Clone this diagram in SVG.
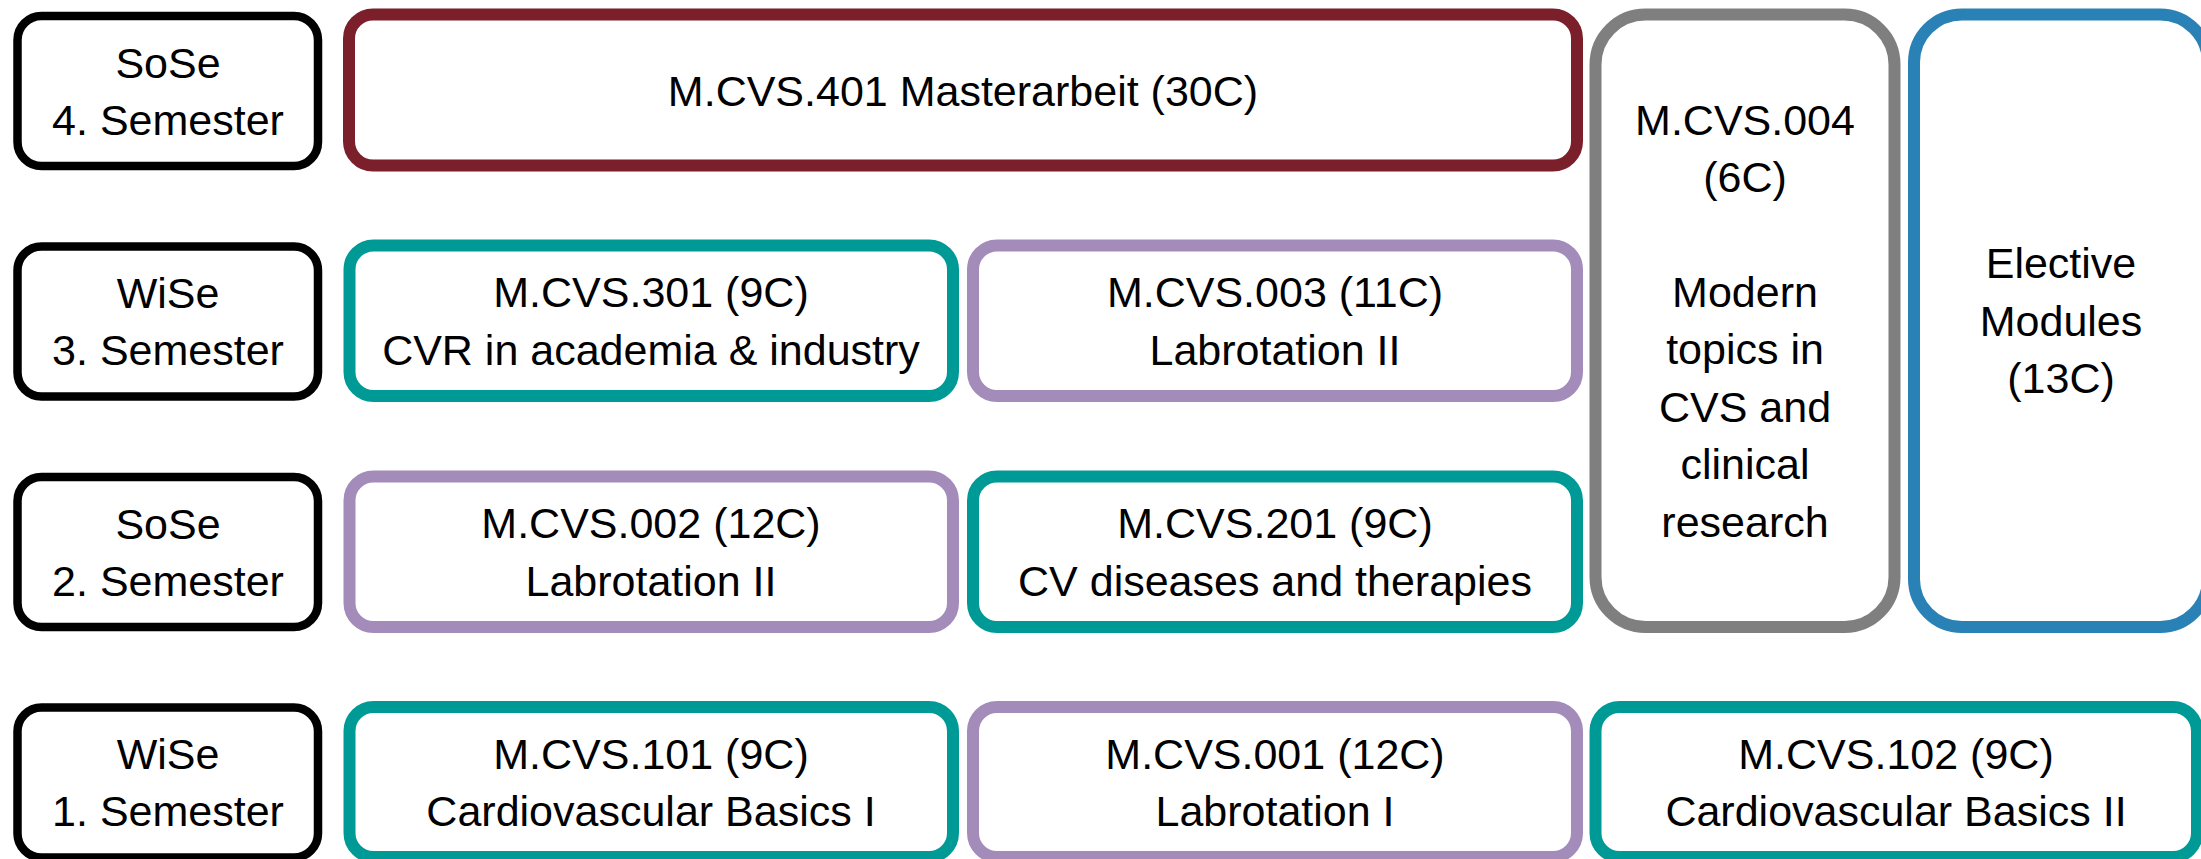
<svg xmlns="http://www.w3.org/2000/svg" width="2201" height="859" viewBox="0 0 2201 859">
<style>
.box{fill:#ffffff;}
.sem{stroke:#000000;stroke-width:8.5;}
.maroon{stroke:#7b1f2a;stroke-width:12;}
.teal{stroke:#009a96;stroke-width:12;}
.lav{stroke:#a38bba;stroke-width:12;}
.gray{stroke:#7f7f7f;stroke-width:12;}
.blue{stroke:#2a81b6;stroke-width:12;}
text{font-family:"Liberation Sans",Arial,sans-serif;font-size:43px;fill:#000000;text-anchor:middle;}
</style>
<rect width="2201" height="859" fill="#ffffff"/>
<g id="connectors"></g>

<g id="sem4"><rect class="box sem" x="17.5" y="16" width="300.5" height="150" rx="24"/><text x="168" y="78">SoSe</text><text x="168" y="135">4. Semester</text></g>
<g id="sem3"><rect class="box sem" x="17.5" y="246.5" width="300.5" height="150" rx="24"/><text x="168" y="308">WiSe</text><text x="168" y="365">3. Semester</text></g>
<g id="sem2"><rect class="box sem" x="17.5" y="477" width="300.5" height="150" rx="24"/><text x="168" y="539">SoSe</text><text x="168" y="596">2. Semester</text></g>
<g id="sem1"><rect class="box sem" x="17.5" y="707.5" width="300.5" height="150" rx="24"/><text x="168" y="769">WiSe</text><text x="168" y="826">1. Semester</text></g>

<g id="m401"><rect class="box maroon" x="349" y="14.5" width="1228" height="151" rx="24"/><text x="963" y="106">M.CVS.401 Masterarbeit (30C)</text></g>

<g id="m004"><rect class="box gray" x="1595.5" y="14.5" width="299" height="612.5" rx="50"/>
<text x="1745" y="135">M.CVS.004</text><text x="1745" y="192">(6C)</text>
<text x="1745" y="307">Modern</text><text x="1745" y="364">topics in</text><text x="1745" y="422">CVS and</text><text x="1745" y="479">clinical</text><text x="1745" y="537">research</text></g>

<g id="elective"><rect class="box blue" x="1914" y="14.5" width="294" height="612.5" rx="48"/>
<text x="2061" y="278">Elective</text><text x="2061" y="336">Modules</text><text x="2061" y="393">(13C)</text></g>

<g id="m301"><rect class="box teal" x="349.5" y="245.5" width="603.5" height="150.5" rx="24"/><text x="651" y="307">M.CVS.301 (9C)</text><text x="651" y="365">CVR in academia &amp; industry</text></g>
<g id="m003"><rect class="box lav" x="973" y="245.5" width="604" height="150.5" rx="24"/><text x="1275" y="307">M.CVS.003 (11C)</text><text x="1275" y="365">Labrotation II</text></g>

<g id="m002"><rect class="box lav" x="349.5" y="476.5" width="603.5" height="150.5" rx="24"/><text x="651" y="538">M.CVS.002 (12C)</text><text x="651" y="596">Labrotation II</text></g>
<g id="m201"><rect class="box teal" x="973" y="476.5" width="604" height="150.5" rx="24"/><text x="1275" y="538">M.CVS.201 (9C)</text><text x="1275" y="596">CV diseases and therapies</text></g>

<g id="m101"><rect class="box teal" x="349.5" y="707" width="603.5" height="150" rx="24"/><text x="651" y="769">M.CVS.101 (9C)</text><text x="651" y="826">Cardiovascular Basics I</text></g>
<g id="m001"><rect class="box lav" x="973" y="707" width="604" height="150" rx="24"/><text x="1275" y="769">M.CVS.001 (12C)</text><text x="1275" y="826">Labrotation I</text></g>
<g id="m102"><rect class="box teal" x="1595.5" y="707" width="601.5" height="150" rx="24"/><text x="1896" y="769">M.CVS.102 (9C)</text><text x="1896" y="826">Cardiovascular Basics II</text></g>
</svg>
